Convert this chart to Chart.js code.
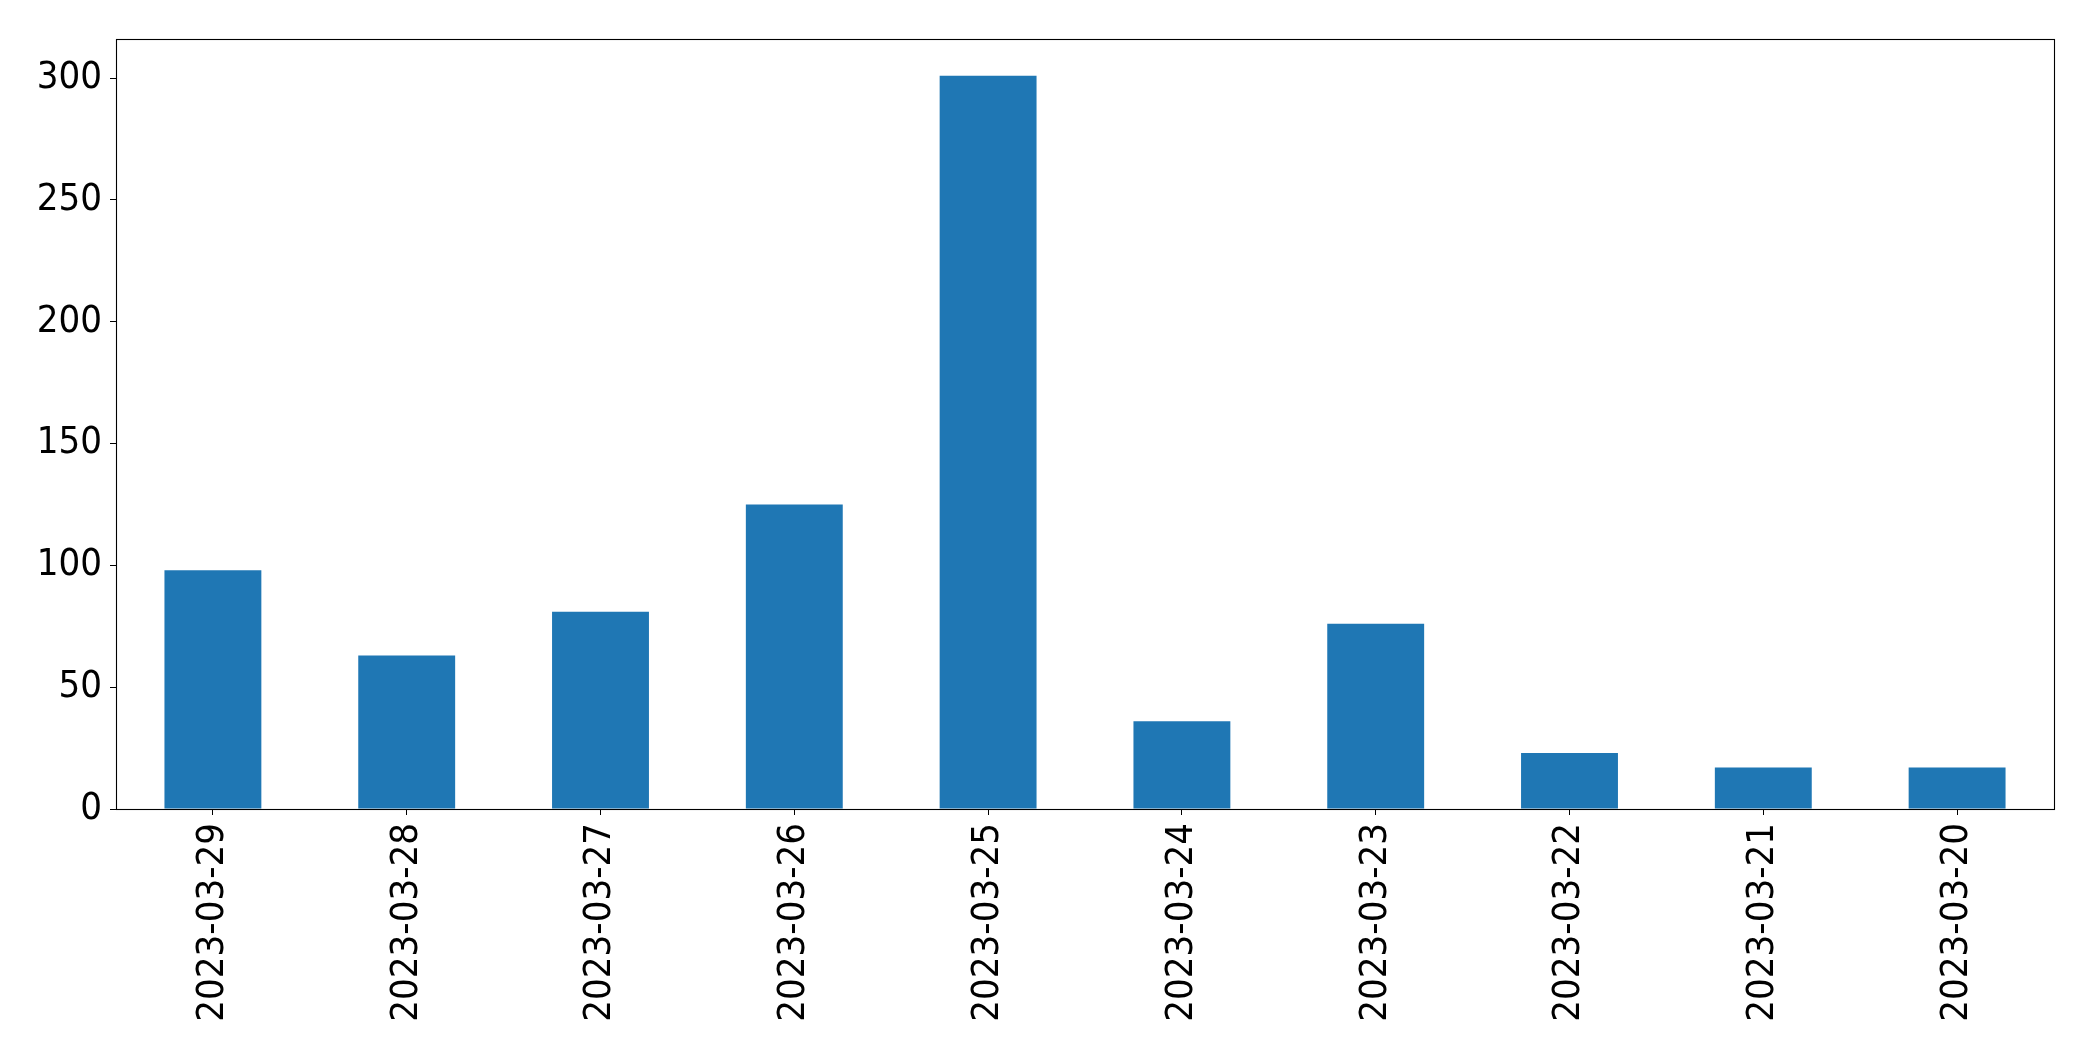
<!DOCTYPE html>
<html>
<head>
<meta charset="utf-8">
<script src="https://cdn.jsdelivr.net/npm/chart.js@4/dist/chart.umd.min.js"></script>
<style>
  html, body { margin: 0; padding: 0; background: #ffffff; }
  #wrap { width: 2093px; height: 1061px; }
</style>
</head>
<body>
<div id="wrap"><canvas id="c" width="2093" height="1061"></canvas></div>
<script>
const categories = ["2023-03-29", "2023-03-28", "2023-03-27", "2023-03-26", "2023-03-25",
                    "2023-03-24", "2023-03-23", "2023-03-22", "2023-03-21", "2023-03-20"];
const counts = [98, 63, 81, 125, 301, 36, 76, 23, 17, 17];
const yTicks = [0, 50, 100, 150, 200, 250, 300];
const yMax = Math.max(...counts) * 1.05;

const FONT = "'DejaVu Sans Condensed', 'DejaVu Sans'";

const frame = {
  id: 'frame',
  afterDatasetsDraw(chart) {
    const a = chart.chartArea, ctx = chart.ctx;
    ctx.save();
    ctx.strokeStyle = '#000';
    ctx.lineWidth = 1.1;
    ctx.strokeRect(Math.round(a.left) + 0.5, Math.round(a.top) + 0.5,
                   Math.round(a.right - a.left), Math.round(a.bottom - a.top));
    ctx.restore();
  }
};

new Chart(document.getElementById('c'), {
  type: 'bar',
  data: {
    labels: categories,
    datasets: [{
      data: counts,
      backgroundColor: '#1f77b4',
      borderWidth: 0,
      barPercentage: 0.5,
      categoryPercentage: 1.0
    }]
  },
  options: {
    responsive: false,
    animation: false,
    devicePixelRatio: 1,
    layout: { padding: { top: 39, right: 39, left: 0, bottom: 0 } },
    plugins: { legend: { display: false }, tooltip: { enabled: false } },
    scales: {
      x: {
        offset: true,
        grid: { display: true, offset: false, drawOnChartArea: false, drawTicks: true, tickLength: 6, color: '#000', lineWidth: 1 },
        border: { display: true, color: '#000', width: 1 },
        ticks: {
          color: '#000',
          font: { family: FONT, size: 38 },
          minRotation: 90, maxRotation: 90,
          autoSkip: false,
          padding: 8
        },
        afterFit(scale) { scale.height = 252; }
      },
      y: {
        min: 0,
        max: yMax,
        grid: { display: true, drawOnChartArea: false, drawTicks: true, tickLength: 6, color: '#000', lineWidth: 1 },
        border: { display: true, color: '#000', width: 1 },
        afterBuildTicks(scale) { scale.ticks = yTicks.map(v => ({ value: v })); },
        ticks: {
          color: '#000',
          font: { family: FONT, size: 38 },
          padding: 8
        },
        afterFit(scale) { scale.width = 116; }
      }
    }
  },
  plugins: [frame]
});
</script>
</body>
</html>
